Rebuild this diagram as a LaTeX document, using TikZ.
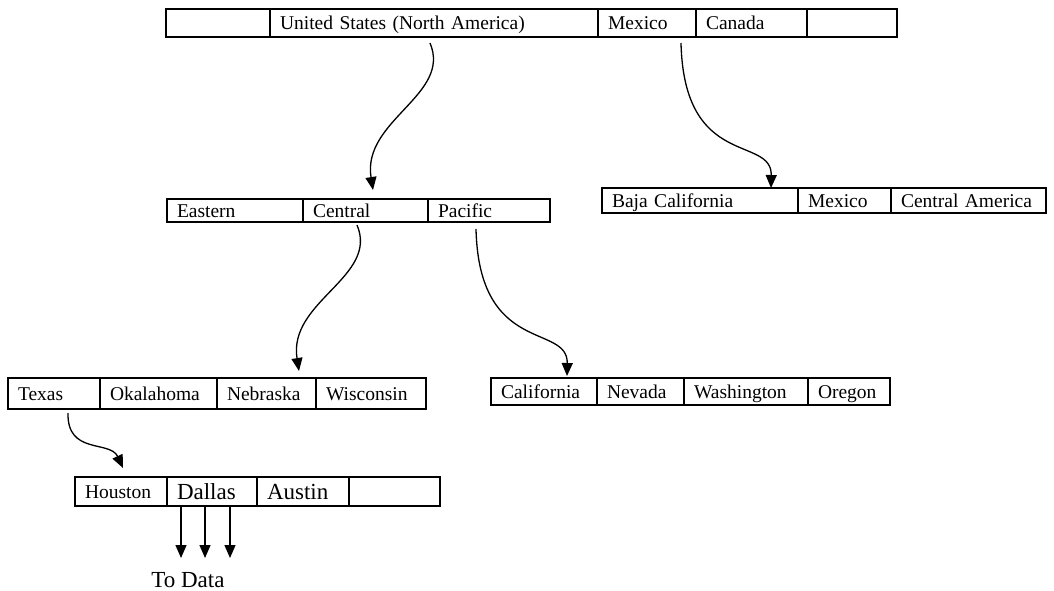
\documentclass[tikz,border=0pt]{standalone}
\usepackage{fontspec}
\setmainfont{Liberation Serif}
\usetikzlibrary{arrows.meta}
\usetikzlibrary{positioning}
\newcommand\cellfont{\fontsize{19.5}{22}\selectfont}
\newcommand\bigcellfont{\fontsize{23}{26}\selectfont}

\begin{document}
\begin{tikzpicture}[>={Triangle[length=13pt,width=11pt]}, x=1pt, y=-1pt,
  cell/.style={draw, line width=1.2pt, anchor=north west, outer sep=0pt, inner xsep=10pt, inner ysep=0pt, align=left, text height=13pt, text depth=0pt, font=\cellfont},
  bigcell/.style={cell, text height=16pt, font=\bigcellfont},
  link/.style={draw, line width=1.3pt, ->}]
\useasboundingbox (0,0) rectangle (1054,591);
\node[cell, text width=84pt, minimum height=28pt] (t0) at (166,9) {};
\node[cell, text width=308pt, minimum height=28pt, right=0pt of t0] (us) {United States (North America)};
\node[cell, text width=78pt, minimum height=28pt, right=0pt of us] (mx) {Mexico};
\node[cell, text width=91pt, minimum height=28pt, right=0pt of mx] (ca) {Canada};
\node[cell, text width=70pt, minimum height=28pt, right=0pt of ca] (t4) {};
\node[cell, text width=116pt, minimum height=23pt] (eastern) at (167,199) {Eastern};
\node[cell, text width=105pt, minimum height=23pt, right=0pt of eastern] (central) {Central};
\node[cell, text width=102pt, minimum height=23pt, right=0pt of central] (pacific) {Pacific};
\node[cell, text width=176pt, minimum height=25pt] (baja) at (602,188) {Baja California};
\node[cell, text width=73pt, minimum height=25pt, right=0pt of baja] (mexico) {Mexico};
\node[cell, text width=135pt, minimum height=25pt, right=0pt of mexico] (camerica) {Central America};
\node[cell, text width=72pt, minimum height=31pt] (texas) at (8,378) {Texas};
\node[cell, text width=97pt, minimum height=31pt, right=0pt of texas] (oklahoma) {Okalahoma};
\node[cell, text width=79pt, minimum height=31pt, right=0pt of oklahoma] (nebraska) {Nebraska};
\node[cell, text width=90pt, minimum height=31pt, right=0pt of nebraska] (wisconsin) {Wisconsin};
\node[cell, text width=86pt, minimum height=27pt] (california) at (491,378) {California};
\node[cell, text width=67pt, minimum height=27pt, right=0pt of california] (nevada) {Nevada};
\node[cell, text width=104pt, minimum height=27pt, right=0pt of nevada] (washington) {Washington};
\node[cell, text width=62pt, minimum height=27pt, right=0pt of washington] (oregon) {Oregon};
\node[cell, text width=72pt, minimum height=29pt] (houston) at (75,477) {Houston};
\node[bigcell, text width=70pt, minimum height=29pt, right=0pt of houston] (dallas) {Dallas};
\node[bigcell, text width=72pt, minimum height=29pt, right=0pt of dallas] (austin) {Austin};
\node[cell, text width=71pt, minimum height=29pt, right=0pt of austin] (c4) {};
\node[font=\bigcellfont, anchor=base] (todata) at (188,587) {To Data};
\draw[link] ([xshift=-4pt,yshift=-6pt]us.south) .. controls +(22,52) and +(-11,-70) .. ([xshift=7.5pt,yshift=9pt]central.north);
\draw[link] ([xshift=34pt,yshift=-6pt]mx.south) .. controls +(3,127) and +(1,-53) .. ([xshift=71pt]baja.north);
\draw[link] ([xshift=-8.5pt,yshift=-3pt]central.south) .. controls +(22,52) and +(-11,-70) .. ([xshift=32.5pt,yshift=7pt]nebraska.north);
\draw[link] ([xshift=-13pt,yshift=-7pt]pacific.south) .. controls +(3,127) and +(1,-53) .. ([xshift=23pt,yshift=2pt]california.north);
\draw[link] ([xshift=14pt,yshift=-4pt]texas.south) .. controls +(-1,42) and +(-13,-28) .. ([xshift=2pt,yshift=9pt]houston.north);
\foreach \dx in {14,38,63}
  \draw[link] ([xshift=\dx pt]dallas.south west) -- ++(0,52);
\end{tikzpicture}
\end{document}
